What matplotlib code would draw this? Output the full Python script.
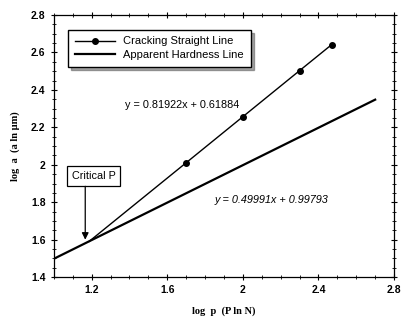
import matplotlib.pyplot as plt
import matplotlib.ticker as mt
import numpy as np

plt.rcParams['font.family'] = ['Liberation Sans', 'DejaVu Sans']

# data
crack_x = [1.7, 2.0, 2.3, 2.47]
crack_y = [2.011, 2.257, 2.503, 2.642]
crack_ext_x = [1.187, 1.7]
crack_ext_y = [1.591, 2.011]
hard_x = [1.0, 2.7]
hard_y = [1.498, 2.348]

fig = plt.figure(figsize=(4.05, 3.2), dpi=100)
ax = fig.add_axes([0.133, 0.134, 0.84, 0.819])

ax.plot(crack_x, crack_y, color='black', lw=1.0, marker='o', ms=4,
        label='Cracking Straight Line')
ax.plot(crack_ext_x, crack_ext_y, color='black', lw=1.0)
ax.plot(hard_x, hard_y, color='black', lw=1.6, label='Apparent Hardness Line')

ax.set_xlim(1.0, 2.8)
ax.set_ylim(1.4, 2.8)
ax.xaxis.set_major_locator(mt.FixedLocator([1.2, 1.6, 2.0, 2.4, 2.8]))
ax.xaxis.set_major_formatter(mt.FixedFormatter(['1.2', '1.6', '2', '2.4', '2.8']))
ax.xaxis.set_minor_locator(mt.MultipleLocator(0.1))
ax.yaxis.set_major_locator(mt.MultipleLocator(0.2))
ax.yaxis.set_major_formatter(mt.FuncFormatter(lambda v, p: ('%.1f' % v).rstrip('0').rstrip('.')))
ax.yaxis.set_minor_locator(mt.MultipleLocator(0.05))
ax.tick_params(which='both', direction='inout', labelsize=7.5, right=True, top=True)
ax.tick_params(which='major', length=5, width=0.8)
ax.tick_params(which='minor', length=3, width=0.6)
for t in ax.get_xticklabels() + ax.get_yticklabels():
    t.set_fontweight('bold')
for s in ax.spines.values():
    s.set_linewidth(0.9)

leg = ax.legend(loc='upper left', bbox_to_anchor=(0.025, 0.965), fontsize=8,
                frameon=True, fancybox=False, handlelength=3.6,
                borderpad=0.6, labelspacing=0.35, edgecolor='black', shadow=True)
leg.get_frame().set_linewidth(1.0)

ax.text(1.68, 2.32, 'y = 0.81922x + 0.61884', fontsize=7.8, ha='center', va='center')
ax.text(2.15, 1.81, 'y = 0.49991x + 0.99793', fontsize=7.8, ha='center', va='center',
        style='italic')

# critical P box and vertical arrow
ax.text(1.21, 1.94, 'Critical P', fontsize=7.8, ha='center', va='center',
        bbox=dict(boxstyle='square,pad=0.45', fc='white', ec='black', lw=0.9))
ax.annotate('', xy=(1.166, 1.60), xytext=(1.166, 1.885),
            arrowprops=dict(arrowstyle='-|>', color='black', lw=0.9,
                            shrinkA=0, shrinkB=0))

ax.set_xlabel('log  p  (P ln N)', family=['Liberation Serif', 'DejaVu Serif'],
              fontsize=7.5, fontweight='bold', labelpad=8)
ax.set_ylabel('log  a  (a ln μm)', family=['Liberation Serif', 'DejaVu Serif'],
              fontsize=7.5, fontweight='bold', labelpad=8)

fig.savefig('out.png', dpi=100)
